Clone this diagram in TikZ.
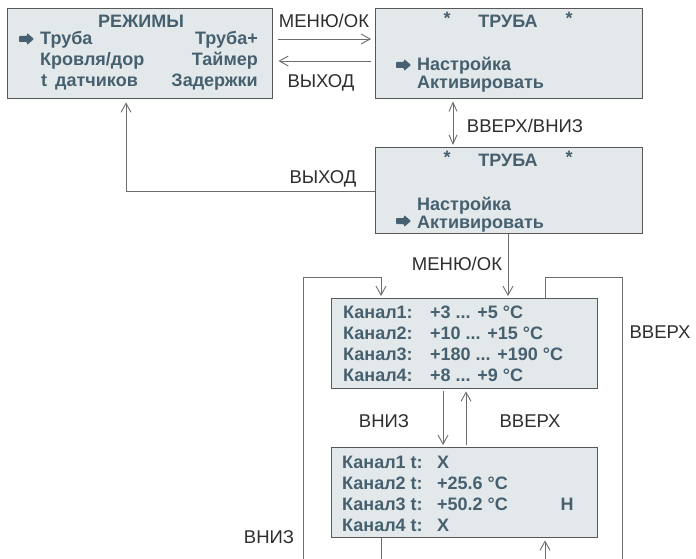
\documentclass[tikz,border=0pt]{standalone}
\usepackage{fontspec}
\setmainfont{Liberation Sans}
\usetikzlibrary{arrows.meta,positioning,calc}
\definecolor{lcd}{HTML}{E3E9EB}
\definecolor{lcdink}{HTML}{46606F}
\definecolor{frameC}{HTML}{585858}
\definecolor{wireC}{HTML}{6C6C6C}
\definecolor{keyink}{HTML}{2E2E2E}
\newcommand\lcdfont{\fontsize{18}{20}\selectfont\bfseries}
\newcommand\keyfont{\fontsize{18.5}{22}\selectfont}

\begin{document}
\begin{tikzpicture}[x=1pt,y=-1pt,
  screen/.style={draw=frameC,fill=lcd,line width=1.4pt,anchor=north west,inner sep=0pt},
  lcdtxt/.style={font=\lcdfont,text=lcdink,inner sep=0pt,anchor=base west},
  keylbl/.style={font=\keyfont,text=keyink,inner sep=0pt,anchor=base},
  wire/.style={draw=wireC,line width=0.9pt},
  arr/.style={wire,-{Straight Barb[length=9pt,width=10pt]}},
  ptr/.pic={\fill[lcdink,rounded corners=0.8pt] (0,-3) -- (8,-3) -- (8,-6) -- (15,0) -- (8,6) -- (8,3) -- (0,3) -- cycle;}]
  \useasboundingbox (0,0) rectangle (696,559);

  % Screens
  \node[screen,minimum width=265pt,minimum height=90pt] (rezhimy) at (7,8) {};
  \node[screen,minimum width=267pt,minimum height=90pt] (truba) at (375,8) {};
  \node[screen,minimum width=267pt,minimum height=86pt] (trubaAkt) at (375,147) {};
  \node[screen,minimum width=266pt,minimum height=90pt] (kanaly) at (331,298) {};
  \node[screen,minimum width=266pt,minimum height=90pt] (datchiki) at (331,447) {};

  % Mode menu
  \node[lcdtxt,anchor=base] (mTitle) at (141,28) {РЕЖИМЫ};
  \pic at (19,39) {ptr};
  \node[lcdtxt] (mTruba) at (40,45) {Труба};
  \node[lcdtxt] (mKrov) at (40,66) {Кровля/дор};
  \node[lcdtxt] (mDat) at (41,87) {t\, датчиков};
  \node[lcdtxt,anchor=base east] (mTrubaP) at (258,45) {Труба+};
  \node[lcdtxt,anchor=base east] (mTaim) at (258,66) {Таймер};
  \node[lcdtxt,anchor=base east] (mZad) at (258,87) {Задержки};

  % Pipe menu, set-up selected
  \node[lcdtxt,anchor=base] (tStarA) at (447,25) {*};
  \node[lcdtxt,anchor=base] (tTitle) at (508,28) {ТРУБА};
  \node[lcdtxt,anchor=base] (tStarB) at (569,25) {*};
  \pic at (396,65) {ptr};
  \node[lcdtxt] (tNast) at (417,71) {Настройка};
  \node[lcdtxt] (tAkt) at (417,89) {Активировать};

  % Pipe menu, activate selected
  \node[lcdtxt,anchor=base] (aStarA) at (447,164) {*};
  \node[lcdtxt,anchor=base] (aTitle) at (508,167) {ТРУБА};
  \node[lcdtxt,anchor=base] (aStarB) at (569,164) {*};
  \node[lcdtxt] (aNast) at (417,210) {Настройка};
  \pic at (396,221) {ptr};
  \node[lcdtxt] (aAkt) at (417,228) {Активировать};

  % Channel ranges
  \node[lcdtxt] (k1) at (343,318) {Канал1:};
  \node[lcdtxt] (k2) at (343,339) {Канал2:};
  \node[lcdtxt] (k3) at (343,360) {Канал3:};
  \node[lcdtxt] (k4) at (343,381) {Канал4:};
  \node[lcdtxt] (k1v) at (430,318) {+3 ... +5 °C};
  \node[lcdtxt] (k2v) at (430,339) {+10 ... +15 °C};
  \node[lcdtxt] (k3v) at (430,360) {+180 ... +190 °C};
  \node[lcdtxt] (k4v) at (430,381) {+8 ... +9 °C};

  % Channel readings
  \node[lcdtxt] (d1) at (342,468) {Канал1 t:};
  \node[lcdtxt] (d2) at (342,489) {Канал2 t:};
  \node[lcdtxt] (d3) at (342,510) {Канал3 t:};
  \node[lcdtxt] (d4) at (342,531) {Канал4 t:};
  \node[lcdtxt] (d1v) at (437,468) {X};
  \node[lcdtxt] (d2v) at (437,489) {+25.6 °C};
  \node[lcdtxt] (d3v) at (437,510) {+50.2 °C};
  \node[lcdtxt] (d4v) at (437,531) {X};
  \node[lcdtxt,anchor=base] (d3h) at (567,510) {Н};

  % Free ends of the loops
  \coordinate (loopL) at (303,559);
  \coordinate (cornerL) at (381,277);
  \coordinate (exitL) at (381,559);
  \coordinate (loopR) at (622,559);
  \coordinate (cornerR) at (545,277);
  \coordinate (entryR) at (545,559);

  % Connectors
  \draw[arr,shorten <=5pt,shorten >=4pt] (rezhimy.east |- 0,39) -- (truba.west |- 0,39);
  \draw[arr,shorten <=4pt,shorten >=5pt] (truba.west |- 0,61) -- (rezhimy.east |- 0,61);
  \draw[wire,{Straight Barb[length=9pt,width=8pt]}-{Straight Barb[length=9pt,width=8pt]},shorten <=2pt,shorten >=2pt]
    (truba.south -| 453,0) -- (trubaAkt.north -| 453,0);
  \draw[arr,shorten >=3pt] (trubaAkt.west |- 0,191) -| (rezhimy.south -| 126,0);
  \draw[arr,shorten >=2pt] (trubaAkt.south -| 508,0) -- (kanaly.north -| 508,0);
  \draw[arr,shorten >=2pt] (loopL) |- (cornerL) -- (kanaly.north -| cornerL);
  \draw[wire] (datchiki.south -| exitL) -- (exitL);
  \draw[wire] (kanaly.north -| cornerR) -- (cornerR) -| (loopR);
  \draw[arr,shorten >=2pt] (entryR) -- (datchiki.south -| entryR);
  \draw[arr,shorten <=2pt,shorten >=2pt] (kanaly.south -| 443,0) -- (datchiki.north -| 443,0);
  \draw[arr,shorten <=2pt,shorten >=2pt] (datchiki.north -| 466,0) -- (kanaly.south -| 466,0);

  % Key labels
  \node[keylbl] (lMenuA) at (324,28) {МЕНЮ/ОК};
  \node[keylbl] (lExitA) at (321,88) {ВЫХОД};
  \node[keylbl] (lUpDown) at (525,132) {ВВЕРХ/ВНИЗ};
  \node[keylbl] (lExitB) at (323,183) {ВЫХОД};
  \node[keylbl] (lMenuB) at (457,270) {МЕНЮ/ОК};
  \node[keylbl] (lUpR) at (660,338) {ВВЕРХ};
  \node[keylbl] (lDownM) at (384,427) {ВНИЗ};
  \node[keylbl] (lUpM) at (530,427) {ВВЕРХ};
  \node[keylbl] (lDownL) at (269,543) {ВНИЗ};
\end{tikzpicture}
\end{document}
